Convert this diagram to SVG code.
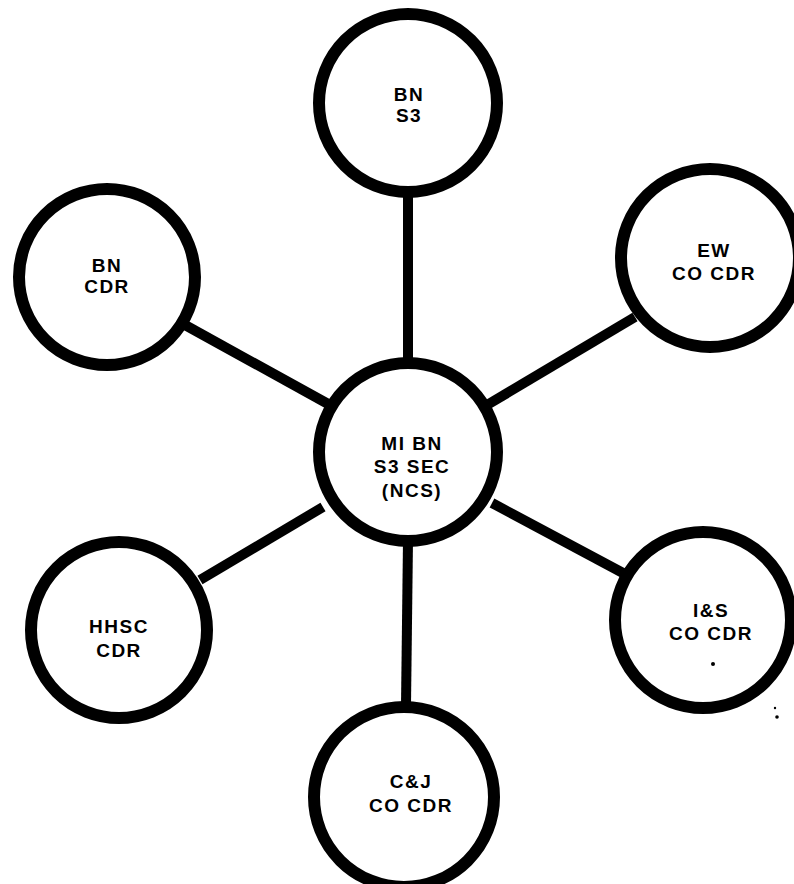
<svg xmlns="http://www.w3.org/2000/svg" width="794" height="884" viewBox="0 0 794 884">
<style>
.n{fill:#fff;stroke:#000;stroke-width:12}
.c line{stroke:#000;stroke-width:10;stroke-linecap:butt}
text{font-family:"Liberation Sans",Arial,sans-serif;font-weight:bold;font-size:19px;text-anchor:middle;fill:#000;letter-spacing:1.5px}
</style>
<rect width="794" height="884" fill="#fff"/>
<g id="connectors" class="c">
<line x1="408" y1="196" x2="408" y2="365"/>
<line x1="185" y1="325" x2="330" y2="405"/>
<line x1="487" y1="405" x2="635" y2="317"/>
<line x1="323" y1="507" x2="200" y2="580"/>
<line x1="492" y1="503" x2="623" y2="573"/>
<line x1="408" y1="540" x2="406" y2="705"/>
</g>
<g id="bn-s3">
<circle class="n" cx="408" cy="103" r="89"/>
<text x="409" y="101">BN</text>
<text x="409" y="122">S3</text>
</g>
<g id="bn-cdr">
<circle class="n" cx="107" cy="277" r="88"/>
<text x="107" y="272">BN</text>
<text x="107" y="293">CDR</text>
</g>
<g id="ew-co-cdr">
<circle class="n" cx="710" cy="258" r="89"/>
<text x="714" y="257">EW</text>
<text x="714" y="280">CO CDR</text>
</g>
<g id="mi-bn">
<circle class="n" cx="408" cy="452" r="89"/>
<text x="412" y="450">MI BN</text>
<text x="412" y="473">S3 SEC</text>
<text x="412" y="497">(NCS)</text>
</g>
<g id="hhsc-cdr">
<circle class="n" cx="119" cy="630" r="88"/>
<text x="119" y="633">HHSC</text>
<text x="119" y="657">CDR</text>
</g>
<g id="is-co-cdr">
<circle class="n" cx="703" cy="620" r="88"/>
<text x="711" y="617">I&amp;S</text>
<text x="711" y="640">CO CDR</text>
</g>
<g id="cj-co-cdr">
<circle class="n" cx="404" cy="797" r="90"/>
<text x="411" y="788">C&amp;J</text>
<text x="411" y="812">CO CDR</text>
</g>
<g id="specks" fill="#000">
<circle cx="713" cy="664" r="2"/>
<circle cx="775" cy="708" r="1.2"/>
<circle cx="777" cy="717" r="1.8"/>
</g>
</svg>
